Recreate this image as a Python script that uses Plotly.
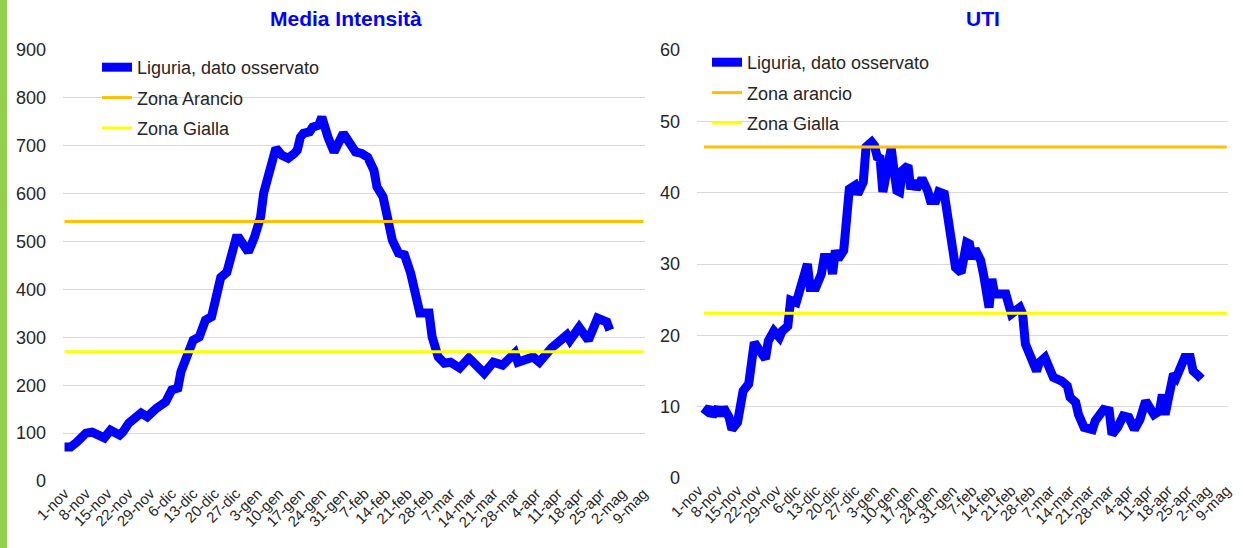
import plotly.graph_objects as go

# ---------------- data ----------------
tick_labels = ["1-nov", "8-nov", "15-nov", "22-nov", "29-nov", "6-dic", "13-dic", "20-dic", "27-dic",
               "3-gen", "10-gen", "17-gen", "24-gen", "31-gen", "7-feb", "14-feb", "21-feb", "28-feb",
               "7-mar", "14-mar", "21-mar", "28-mar", "4-apr", "11-apr", "18-apr", "25-apr", "2-mag", "9-mag"]
tick_days = [7 * i for i in range(len(tick_labels))]
all_days = list(range(190))

# Media Intensità (day index from 1-nov, value)
mi_days = [0, 2, 4, 7, 9, 12, 13, 15, 18, 19, 21, 25, 27, 30, 33, 35, 37, 38, 40, 42, 44, 46, 48, 50, 51,
           53, 56, 57, 60, 62, 64, 65, 67, 69, 71, 73, 75, 76, 77, 78, 80, 81, 83, 84, 86, 88, 91, 93, 95,
           97, 99, 101, 102, 104, 106, 107, 109, 111, 113, 115, 116, 119, 120, 122, 124, 126, 129, 132,
           135, 137, 140, 143, 147, 148, 153, 155, 159, 161, 164, 165, 168, 171, 174, 177, 178]
mi_vals = [71, 71, 81, 100, 102, 92, 90, 106, 96, 102, 121, 142, 134, 152, 165, 190, 194, 228, 263, 294,
           301, 336, 343, 392, 425, 436, 507, 507, 478, 509, 551, 601, 649, 695, 680, 674, 684, 691, 718,
           726, 729, 739, 743, 760, 718, 687, 726, 705, 687, 684, 676, 649, 614, 593, 545, 503, 476, 472,
           434, 372, 351, 351, 301, 259, 246, 248, 236, 257, 238, 225, 248, 242, 267, 248, 259, 248, 278,
           288, 305, 294, 321, 294, 340, 332, 315]
mi_arancio = 542
mi_gialla = 270

# UTI
uti_days = [2, 4, 5, 7, 8, 9, 11, 12, 14, 15, 16, 18, 19, 20, 22, 24, 25, 27, 29, 30, 32, 33, 35, 36, 37,
            39, 40, 42, 44, 45, 47, 48, 49, 50, 52, 53, 54, 56, 57, 59, 60, 62, 63, 64, 65, 66, 68, 69, 70,
            71, 72, 73, 75, 76, 77, 78, 79, 80, 82, 83, 85, 86, 88, 89, 90, 91, 92, 94, 95, 96, 97, 98, 99,
            101, 102, 103, 104, 105, 106, 108, 110, 112, 115, 116, 117, 119, 121, 122, 124, 127, 130, 132,
            133, 135, 136, 138, 141, 142, 145, 147, 148, 150, 152, 154, 156, 158, 160, 163, 165, 166, 167,
            168, 170, 171, 173, 174, 176, 177, 179, 180]
uti_vals = [8.9, 9.9, 8.7, 9.9, 8.7, 9.9, 8.5, 6.8, 7.8, 10.8, 12.2, 13.2, 16.9, 19.0, 17.8, 16.7, 19.2,
            20.6, 19.7, 20.6, 21.3, 24.9, 24.6, 26.0, 27.2, 30.0, 26.7, 26.7, 28.6, 30.9, 30.9, 28.6, 31.9,
            30.7, 31.9, 37.0, 40.5, 41.0, 39.8, 41.5, 46.4, 47.1, 46.6, 45.0, 44.8, 40.1, 44.1, 46.2, 43.1,
            40.3, 40.1, 43.1, 43.8, 40.5, 41.7, 40.5, 41.2, 42.0, 40.3, 38.9, 38.9, 40.1, 39.8, 36.6, 34.2,
            31.9, 29.5, 28.8, 31.4, 33.0, 32.8, 30.7, 32.1, 30.5, 28.6, 25.8, 23.9, 27.9, 25.8, 25.8, 25.8,
            23.0, 23.9, 23.0, 18.8, 16.9, 15.0, 16.2, 16.9, 14.1, 13.6, 12.9, 11.3, 10.6, 8.9, 7.1, 6.8, 8.0,
            9.6, 9.4, 6.1, 7.1, 8.7, 8.5, 6.8, 8.2, 10.8, 8.9, 9.4, 11.7, 8.9, 10.8, 14.6, 14.1, 16.2, 16.9,
            16.9, 15.0, 14.3, 13.9]
uti_arancio = 46.4
uti_gialla = 23.1
uti_thr_days = list(range(2, 190))

# ---------------- figure ----------------
W, H = 1243, 548
BLUE = "#0000FF"
ORANGE = "#FFC000"
YELLOW = "#FFFF00"
TXT = "#262626"
GRID = "#D9D9D9"
FONT = "Liberation Sans, Arial, sans-serif"

fig = go.Figure()

fig.add_trace(go.Scatter(x=mi_days, y=mi_vals, mode="lines", name="Liguria, dato osservato",
                         line=dict(color=BLUE, width=9), xaxis="x", yaxis="y",
                         legend="legend", legendgroup="a"))
fig.add_trace(go.Scatter(x=all_days, y=[mi_arancio] * len(all_days), mode="lines", name="Zona Arancio",
                         line=dict(color=ORANGE, width=3), xaxis="x", yaxis="y",
                         legend="legend", legendgroup="b"))
fig.add_trace(go.Scatter(x=all_days, y=[mi_gialla] * len(all_days), mode="lines", name="Zona Gialla",
                         line=dict(color=YELLOW, width=3), xaxis="x", yaxis="y",
                         legend="legend", legendgroup="c"))

fig.add_trace(go.Scatter(x=uti_days, y=uti_vals, mode="lines", name="Liguria, dato osservato",
                         line=dict(color=BLUE, width=9), xaxis="x2", yaxis="y2",
                         legend="legend2", legendgroup="d"))
fig.add_trace(go.Scatter(x=uti_thr_days, y=[uti_arancio] * len(uti_thr_days), mode="lines",
                         name="Zona arancio", line=dict(color=ORANGE, width=3), xaxis="x2", yaxis="y2",
                         legend="legend2", legendgroup="e"))
fig.add_trace(go.Scatter(x=uti_thr_days, y=[uti_gialla] * len(uti_thr_days), mode="lines",
                         name="Zona Gialla", line=dict(color=YELLOW, width=3), xaxis="x2", yaxis="y2",
                         legend="legend2", legendgroup="f"))

xcommon = dict(range=[-0.5, 189.5], tickmode="array", tickvals=tick_days, ticktext=tick_labels,
               tickangle=-45, tickfont=dict(size=15, color=TXT, family=FONT), showgrid=False,
               zeroline=False, showline=False, ticks="", automargin=False, fixedrange=True)
ycommon = dict(showgrid=True, gridcolor=GRID, gridwidth=1, zeroline=False, showline=False, ticks="",
               tickfont=dict(size=18, color=TXT, family=FONT), automargin=False, fixedrange=True,
               ticklabelstandoff=16)

fig.update_layout(
    width=W, height=H, margin=dict(l=0, r=0, t=0, b=0), autosize=False,
    paper_bgcolor="white", plot_bgcolor="white", hovermode=False,
    font=dict(family=FONT, color=TXT),
    xaxis=dict(domain=[63 / W, 645 / W], anchor="y", **xcommon),
    yaxis=dict(domain=[(H - 481) / H, (H - 50) / H], anchor="x", range=[0, 900], dtick=100, **ycommon),
    xaxis2=dict(domain=[697 / W, 1228 / W], anchor="y2", **xcommon),
    yaxis2=dict(domain=[(H - 478) / H, (H - 50) / H], anchor="x2", range=[0, 60], dtick=10, **ycommon),
    legend=dict(x=97 / W, y=1 - 49 / H, xanchor="left", yanchor="top", bgcolor="rgba(0,0,0,0)",
                font=dict(size=18, color=TXT, family=FONT), itemwidth=30, tracegroupgap=4,
                traceorder="grouped"),
    legend2=dict(x=707 / W, y=1 - 44 / H, xanchor="left", yanchor="top", bgcolor="rgba(0,0,0,0)",
                 font=dict(size=18, color=TXT, family=FONT), itemwidth=30, tracegroupgap=4,
                 traceorder="grouped"),
    shapes=[dict(type="rect", xref="paper", yref="paper", x0=0, x1=7 / W, y0=0, y1=1,
                 fillcolor="#92D050", line=dict(width=0), layer="above")],
    annotations=[
        dict(text="<b>Media Intensità</b>", xref="paper", yref="paper", x=346 / W, y=1 - 19 / H,
             xanchor="center", yanchor="middle", showarrow=False,
             font=dict(size=21, color=BLUE, family=FONT)),
        dict(text="<b>UTI</b>", xref="paper", yref="paper", x=983 / W, y=1 - 19 / H,
             xanchor="center", yanchor="middle", showarrow=False,
             font=dict(size=21, color=BLUE, family=FONT)),
    ],
)

fig.write_html("out.html", config={"displayModeBar": False},
               post_script="document.body.style.margin='0';document.body.style.padding='0';")
